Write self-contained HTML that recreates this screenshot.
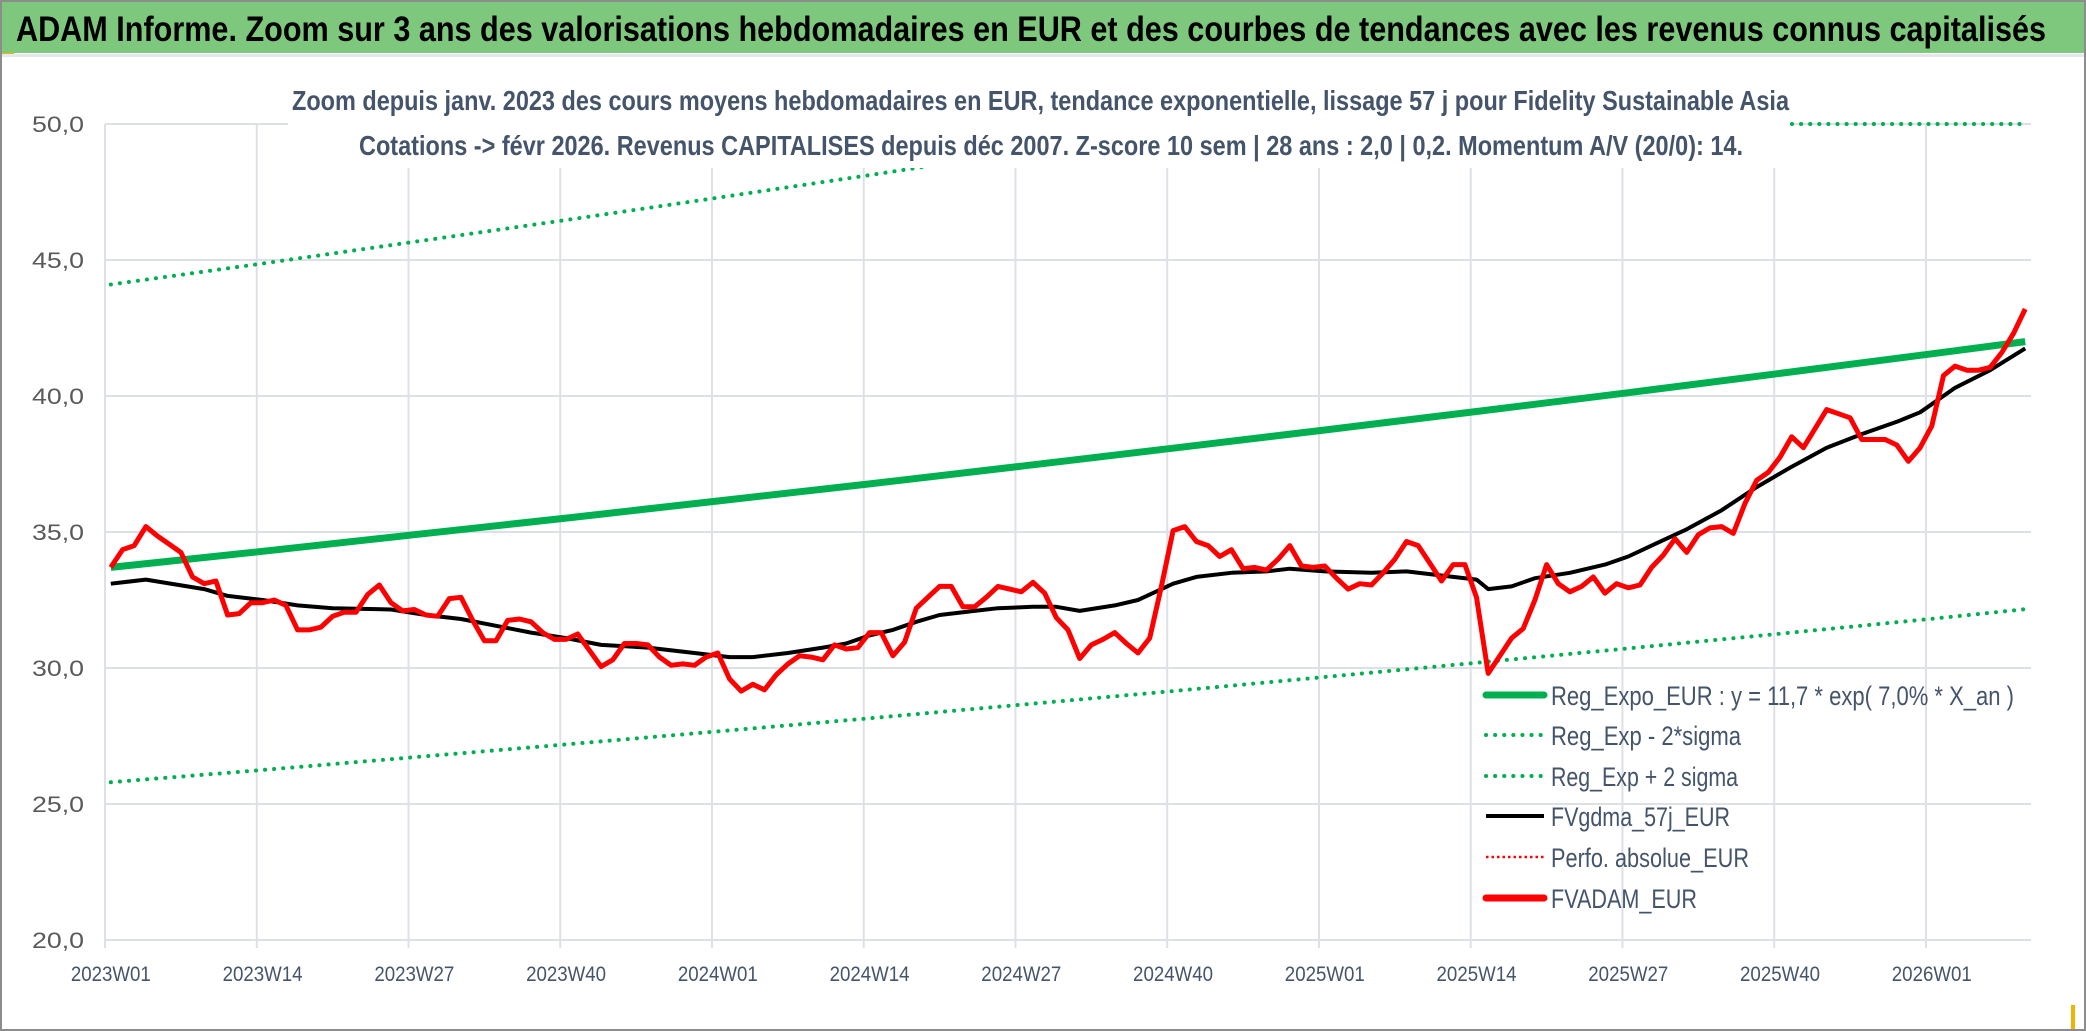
<!DOCTYPE html>
<html><head><meta charset="utf-8"><style>
html,body{margin:0;padding:0;background:#fff;}
svg{display:block;font-family:"Liberation Sans",sans-serif;}
</style></head><body>
<svg id="chart" width="2086" height="1031" viewBox="0 0 2086 1031" xmlns="http://www.w3.org/2000/svg">
<rect x="0" y="0" width="2086" height="1031" fill="#fff"/>
<rect x="1" y="1" width="2084" height="1029" fill="none" stroke="#8c8c8c" stroke-width="2"/>
<rect x="2" y="2" width="2082" height="51" fill="#7ec87e"/>
<rect x="2" y="53" width="12" height="3" fill="#f0b400"/>
<rect x="2" y="54" width="2082" height="3" fill="#e4e7ec"/>
<rect x="2071" y="1005" width="4" height="24" fill="#f0b400"/>
<text x="16" y="41" font-size="35" font-weight="bold" fill="#000" textLength="2030" lengthAdjust="spacingAndGlyphs">ADAM Informe. Zoom sur 3 ans des valorisations hebdomadaires en EUR et des courbes de tendances avec les revenus connus capitalisés</text>
<g id="grid"></g>
<g id="series"></g>
<rect x="288" y="62" width="1502" height="106" fill="#fff"/>
<text x="292" y="110" font-size="28" font-weight="bold" fill="#44546a" textLength="1497" lengthAdjust="spacingAndGlyphs">Zoom depuis janv. 2023 des cours moyens hebdomadaires en EUR, tendance exponentielle,  lissage 57 j pour Fidelity Sustainable Asia</text>
<text x="359" y="155" font-size="28" font-weight="bold" fill="#44546a" textLength="1384" lengthAdjust="spacingAndGlyphs">Cotations -&gt; févr 2026. Revenus CAPITALISES depuis déc 2007. Z-score 10 sem | 28 ans : 2,0 | 0,2. Momentum A/V (20/0): 14.</text>
<g id="axes"></g>
<g id="legend"></g>
</svg>
<script>
// ---- data ----
const xTickLabels = ["2023W01","2023W14","2023W27","2023W40","2024W01","2024W14","2024W27","2024W40","2025W01","2025W14","2025W27","2025W40","2026W01"];
const yTicks = [20,25,30,35,40,45,50];
const adamValues = [33.7,34.35,34.5,35.2,34.85,34.55,34.25,33.35,33.1,33.2,31.95,32.0,32.4,32.4,32.5,32.3,31.4,31.4,31.5,31.9,32.05,32.05,32.7,33.05,32.4,32.1,32.15,31.95,31.9,32.55,32.6,31.75,31.0,31.0,31.75,31.8,31.7,31.3,31.05,31.05,31.25,30.65,30.05,30.3,30.9,30.9,30.85,30.4,30.1,30.15,30.1,30.4,30.55,29.6,29.15,29.4,29.2,29.75,30.15,30.45,30.4,30.3,30.85,30.7,30.75,31.3,31.3,30.45,30.95,32.2,32.6,33.0,33.0,32.25,32.25,32.6,33.0,32.9,32.8,33.15,32.75,31.85,31.4,30.35,30.85,31.05,31.3,30.9,30.55,31.1,33.0,35.05,35.2,34.65,34.5,34.1,34.35,33.65,33.7,33.6,34.0,34.5,33.75,33.7,33.75,33.3,32.9,33.1,33.05,33.5,34.0,34.65,34.5,33.85,33.2,33.8,33.8,32.6,29.8,30.45,31.1,31.45,32.5,33.8,33.1,32.8,33.0,33.35,32.75,33.1,32.95,33.05,33.7,34.15,34.75,34.25,34.9,35.15,35.2,34.95,36.05,36.9,37.2,37.75,38.5,38.1,38.8,39.5,39.35,39.2,38.4,38.4,38.4,38.2,37.6,38.1,38.9,40.75,41.1,40.95,40.95,41.05,41.6,42.3,43.2];
const maIdx = [0,3,8,10,13,16,19,24,27,30,33,36,39,42,46,50,53,55,58,61,63,65,67,69,71,74,76,79,81,83,86,88,89,91,93,96,99,101,104,108,111,114,117,118,120,122,125,128,130,132,135,138,141,144,147,150,153,155,156,158,161,164];
const maValues = [33.1,33.25,32.9,32.65,32.5,32.3,32.2,32.15,31.95,31.8,31.55,31.3,31.1,30.85,30.75,30.55,30.4,30.4,30.55,30.75,30.9,31.2,31.4,31.7,31.95,32.1,32.2,32.25,32.25,32.1,32.3,32.5,32.7,33.1,33.35,33.5,33.55,33.65,33.55,33.5,33.55,33.4,33.25,32.9,33.0,33.3,33.5,33.8,34.1,34.5,35.1,35.8,36.65,37.4,38.1,38.6,39.05,39.4,39.7,40.3,40.95,41.75];
const trendIdx = [0,13,26,39,52,65,78,91,104,117,130,143,156,164];
const regValues = [33.7,34.29,34.9,35.51,36.14,36.77,37.42,38.08,38.75,39.43,40.12,40.83,41.55,42.0];
const lowValues = [25.8,26.25,26.72,27.19,27.67,28.15,28.65,29.15,29.67,30.19,30.72,31.26,31.81,32.16];
const highValues = [44.1,44.87,45.67,46.47,47.29,48.12,48.97,49.83,50.71,51.6,52.51,53.43,54.37,54.97];
const legendLabels = ["Reg_Expo_EUR : y = 11,7 * exp( 7,0% *  X_an )","Reg_Exp - 2*sigma","Reg_Exp + 2 sigma","FVgdma_57j_EUR","Perfo. absolue_EUR","FVADAM_EUR"];

// ---- layout ----
const NS="http://www.w3.org/2000/svg";
const L=105, R=2031, nCat=165, yMin=20, yMax=50, yTop=124, yBot=940;
const step=(R-L)/nCat;
const xS=i=>L+step*(i+0.5);
const yS=v=>yBot-(v-yMin)/(yMax-yMin)*(yBot-yTop);
function mk(tag,attrs,parent){const e=document.createElementNS(NS,tag);for(const k in attrs)e.setAttribute(k,attrs[k]);parent.appendChild(e);return e;}
const grid=document.getElementById('grid'), series=document.getElementById('series'), axes=document.getElementById('axes'), legend=document.getElementById('legend');
yTicks.forEach(v=>{
  const ln=mk('line',{x1:L,x2:R,y1:yS(v),y2:yS(v),stroke:'#dde1e7','stroke-width':2},grid);
  
  
  const t=mk('text',{x:84,y:yS(v)+8,'font-size':22,fill:'#595959','text-anchor':'end',textLength:52,lengthAdjust:'spacingAndGlyphs'},axes);
  
  
  t.textContent=v.toFixed(1).replace('.',',');
});
xTickLabels.forEach((lab,k)=>{
  const i=k*13;
  const gx=L+step*i;
  const ln=mk('line',{x1:gx,x2:gx,y1:yTop,y2:yBot+8,stroke:'#dde1e7','stroke-width':2},grid);
  
  
  const t=mk('text',{x:xS(i),y:981,'font-size':21,fill:'#44546a','text-anchor':'middle',textLength:80,lengthAdjust:'spacingAndGlyphs'},axes);
  
  
  t.textContent=lab;
});
function pts(idx,vals,clamp){return idx.map((i,k)=>xS(i).toFixed(1)+','+yS(clamp?Math.min(vals[k],yMax):vals[k]).toFixed(1)).join(' ');}
const allIdx=adamValues.map((v,i)=>i);
const dotted={fill:'none',stroke:'#00b050','stroke-width':4,'stroke-linecap':'round','stroke-dasharray':'0.1 9'};
const hi=mk('polyline',Object.assign({points:pts(trendIdx,highValues,true)},dotted),series);


const lo=mk('polyline',Object.assign({points:pts(trendIdx,lowValues,false)},dotted),series);


const reg=mk('polyline',{points:pts(trendIdx,regValues,false),fill:'none',stroke:'#00b050','stroke-width':7,'stroke-linejoin':'round'},series);


const ma=mk('polyline',{points:pts(maIdx,maValues,false),fill:'none',stroke:'#000','stroke-width':4,'stroke-linejoin':'round'},series);


const red=mk('polyline',{points:pts(allIdx,adamValues,false),fill:'none',stroke:'#ff0000','stroke-width':5,'stroke-linejoin':'round'},series);


// legend
const legY=[695,735,776,816,857,898];
const styles=[
 {stroke:'#00b050','stroke-width':7,'stroke-linecap':'round'},
 {stroke:'#00b050','stroke-width':4,'stroke-linecap':'round','stroke-dasharray':'0.1 9'},
 {stroke:'#00b050','stroke-width':4,'stroke-linecap':'round','stroke-dasharray':'0.1 9'},
 {stroke:'#000','stroke-width':4},
 {stroke:'#ff0000','stroke-width':2.5,'stroke-dasharray':'2.5 3'},
 {stroke:'#ff0000','stroke-width':7,'stroke-linecap':'round'}];
const legW=[463,190,187,179,198,146];
legendLabels.forEach((lab,k)=>{
  const g=mk('g',{},legend);
  
  
  const ln=mk('line',Object.assign({x1:1486,x2:1544,y1:legY[k],y2:legY[k]},styles[k]),g);
  
  
  const t=mk('text',{x:1551,y:legY[k]+10,'font-size':27,fill:'#44546a',textLength:legW[k],lengthAdjust:'spacingAndGlyphs'},g);
  
  
  t.textContent=lab;
});
</script>
</body></html>
